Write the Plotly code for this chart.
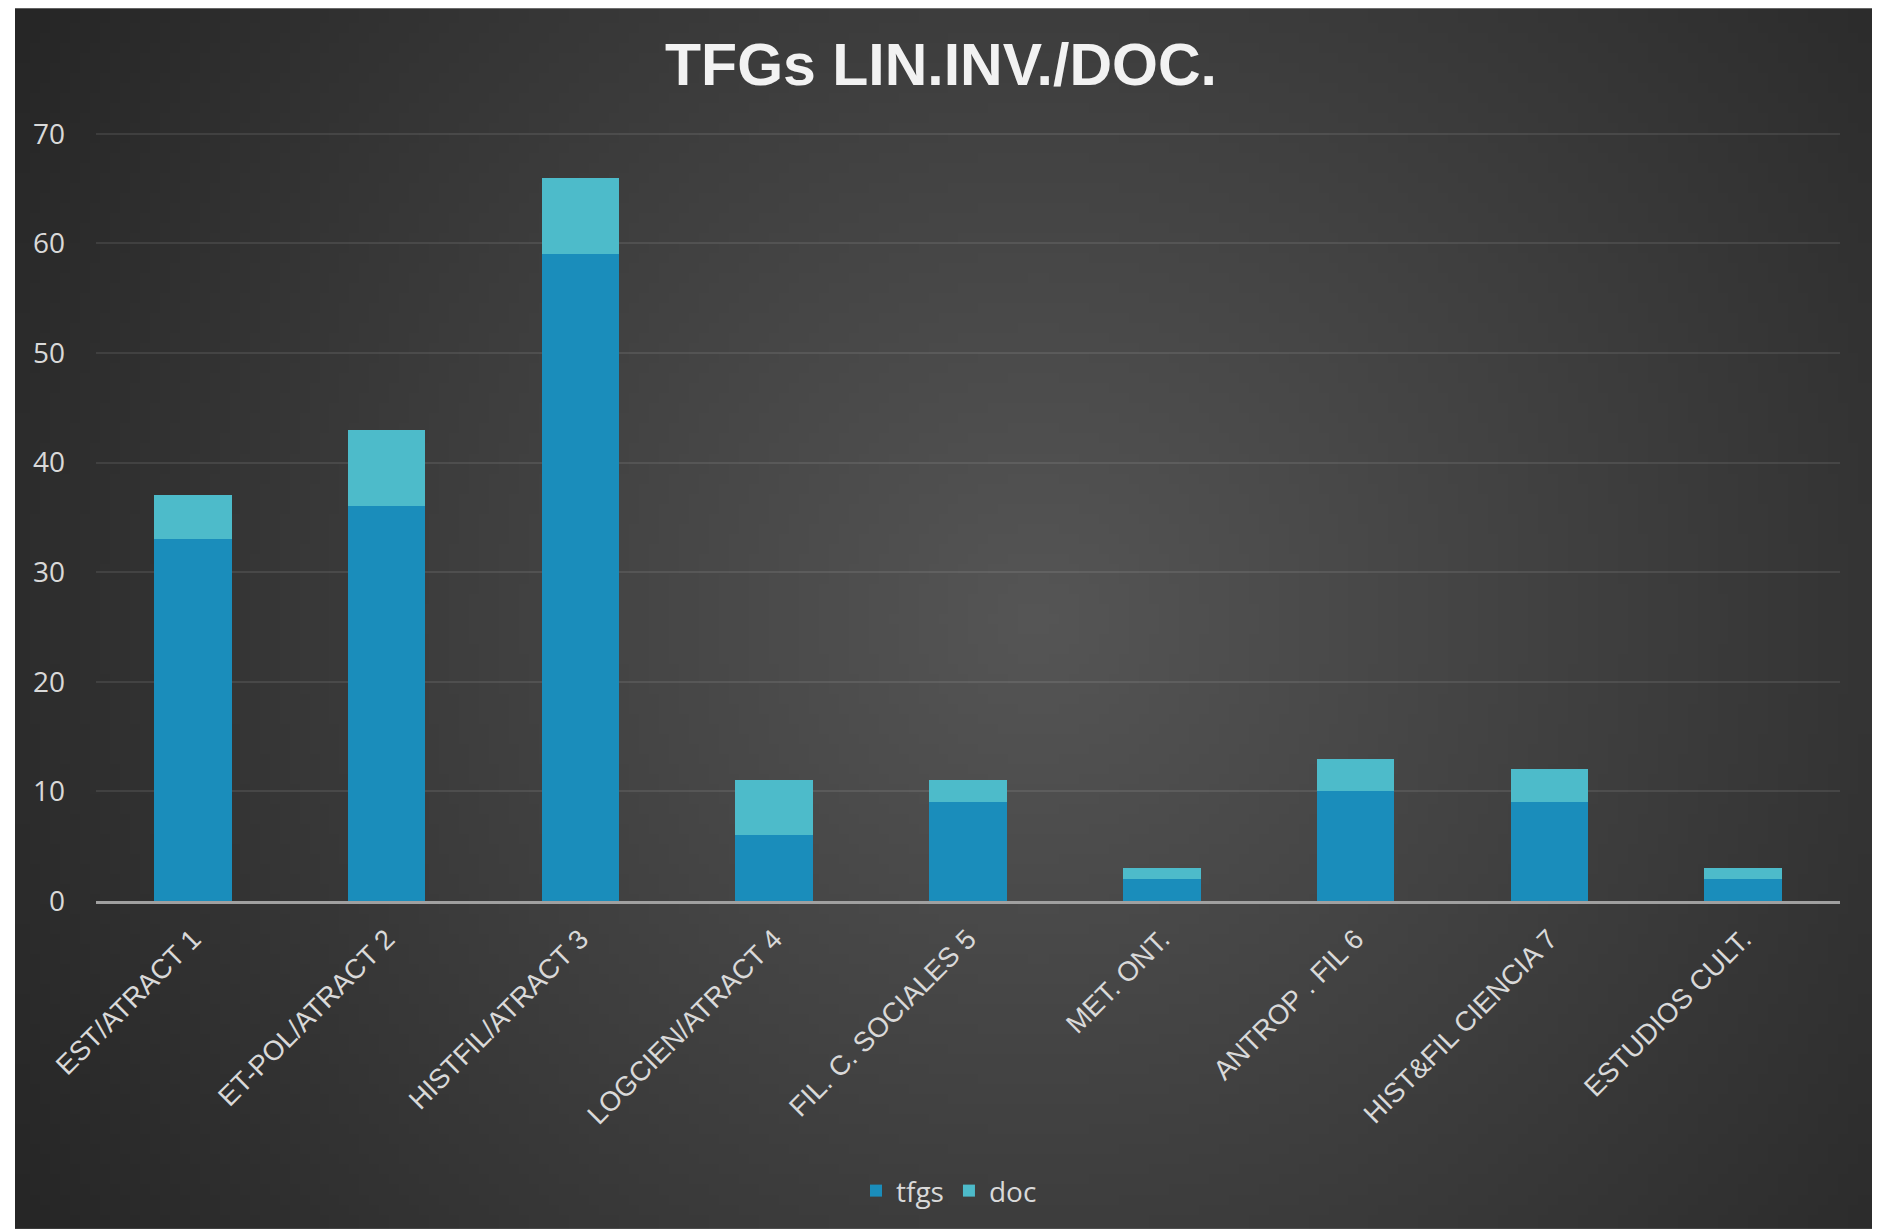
import base64, struct, zlib, math
import plotly.graph_objects as go

categories = ["EST/ATRACT 1", "ET-POL/ATRACT 2", "HISTFIL/ATRACT 3", "LOGCIEN/ATRACT 4",
              "FIL. C. SOCIALES 5", "MET. ONT.", "ANTROP . FIL 6", "HIST&FIL CIENCIA 7",
              "ESTUDIOS CULT."]
tfgs = [33, 36, 59, 6, 9, 2, 10, 9, 2]
doc = [4, 7, 7, 5, 2, 1, 3, 3, 1]
y_ticks = [0, 10, 20, 30, 40, 50, 60, 70]

# page has an 8px body margin; figure coordinates are page coordinates minus 8
OFF = 8
W, H = 1885 - OFF, 1229 - OFF
YMAX = 70.25
unit = (901 - 133.5) / 70.0
plot_left, plot_right = 96 - OFF, 1840 - OFF
plot_bottom = 901 - OFF
plot_top = plot_bottom - YMAX * unit
ML, MR = plot_left, W - plot_right
MT, MB = plot_top, H - plot_bottom
PW, PH = plot_right - plot_left, plot_bottom - plot_top

# background radial gradient image (dark card)
RX0, RY0, RX1, RY1 = 15 - OFF, 0, 1872 - OFF, H
iw, ih = 186, 122
cx = RX0 + 0.55 * (RX1 - RX0)
cy = RY0 + 0.5 * (RY1 - RY0)
rows = []
for j in range(ih):
    row = bytearray([0])
    for i in range(iw):
        px = RX0 + (i + 0.5) / iw * (RX1 - RX0)
        py = RY0 + (j + 0.5) / ih * (RY1 - RY0)
        d = math.hypot(px - cx, py - cy)
        v = int(max(36, min(86, 86 - 0.0405 * d)))
        row += bytes([v, v, v])
    rows.append(bytes(row))
raw = b"".join(rows)
def chunk(t, data):
    c = struct.pack(">I", len(data)) + t + data
    return c + struct.pack(">I", zlib.crc32(t + data) & 0xffffffff)
png = b"\x89PNG\r\n\x1a\n" + chunk(b"IHDR", struct.pack(">IIBBBBB", iw, ih, 8, 2, 0, 0, 0)) \
      + chunk(b"IDAT", zlib.compress(raw, 9)) + chunk(b"IEND", b"")
src = "data:image/png;base64," + base64.b64encode(png).decode()

fig = go.Figure()
fig.add_trace(go.Bar(x=categories, y=tfgs, name="tfgs", marker=dict(color="#1A8DBB", line=dict(width=0))))
fig.add_trace(go.Bar(x=categories, y=doc, name="doc", marker=dict(color="#4DBBCA", line=dict(width=0))))

fig.add_layout_image(dict(
    source=src, xref="paper", yref="paper",
    x=(RX0 - ML) / PW, y=(plot_bottom - RY0) / PH,
    sizex=(RX1 - RX0) / PW, sizey=(RY1 - RY0) / PH,
    xanchor="left", yanchor="top", sizing="stretch", layer="below"))

fig.update_layout(
    width=W, height=H,
    margin=dict(l=ML, r=MR, t=MT, b=MB, autoexpand=False),
    paper_bgcolor="white", plot_bgcolor="rgba(0,0,0,0)",
    barmode="stack", bargap=0.6,
    title=dict(text="<b>TFGs LIN.INV./DOC.</b>", x=(941 - OFF) / W, xref="container",
               xanchor="center", y=1 - (64 - OFF) / H, yref="container", yanchor="middle",
               font=dict(family="Liberation Sans", size=59, color="#F2F2F2")),
    font=dict(family="Liberation Sans", color="#D9D9D9"),
    legend=dict(orientation="h", x=(949 - OFF - ML) / PW, xanchor="center",
                y=(plot_bottom - (1191 - OFF)) / PH, yanchor="middle",
                font=dict(family="Open Sans", size=28, color="#D9D9D9"),
                bgcolor="rgba(0,0,0,0)", traceorder="normal"),
    showlegend=True,
)
fig.update_yaxes(range=[0, YMAX], tickvals=y_ticks, showgrid=True,
                 gridcolor="rgba(255,255,255,0.09)", gridwidth=2,
                 zeroline=False, showline=False, ticks="",
                 tickfont=dict(family="Open Sans", size=28, color="#D9D9D9"), ticklabelstandoff=30)
fig.update_xaxes(showgrid=False, tickangle=-45, ticks="", showline=True,
                 linecolor="#A0A0A0", linewidth=3,
                 tickfont=dict(size=27.5, color="#D9D9D9"), ticklabelstandoff=8)

fig.write_html("out.html")
